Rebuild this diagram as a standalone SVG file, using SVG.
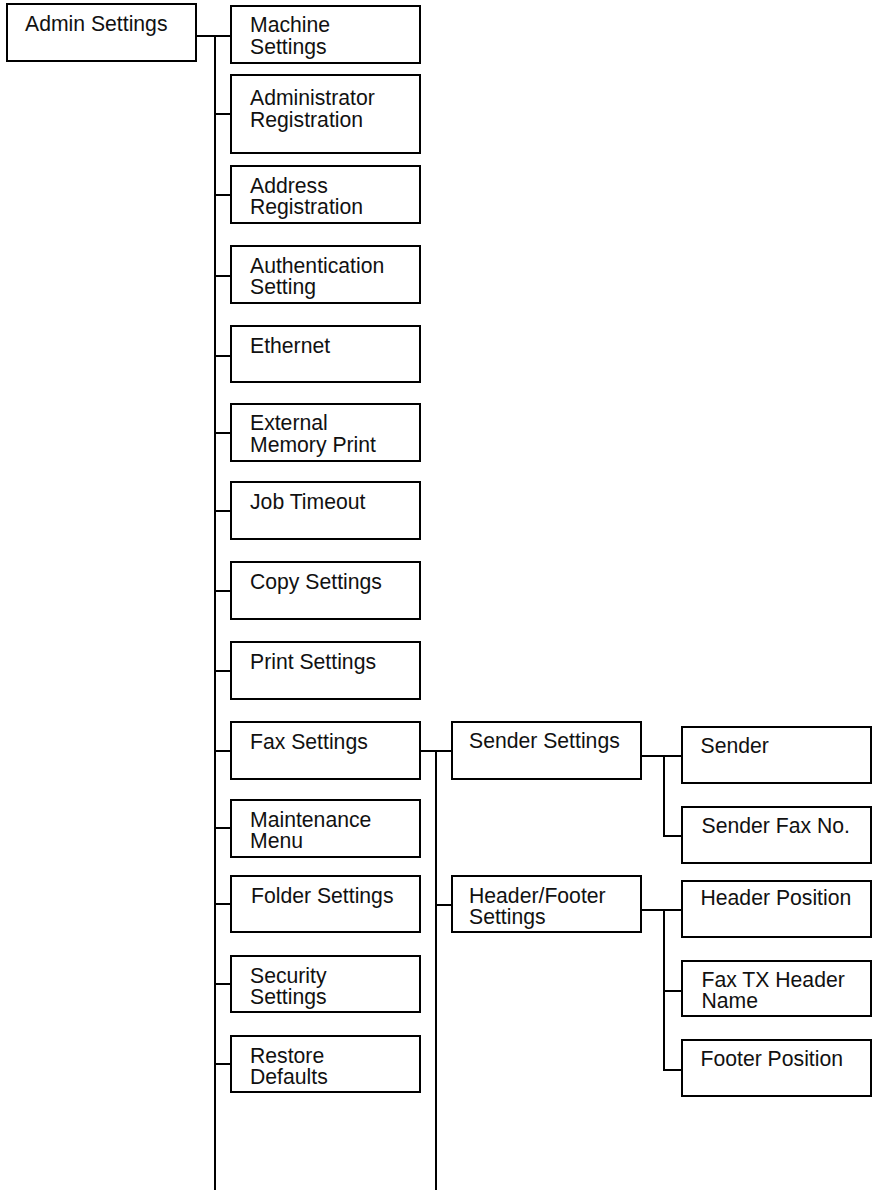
<svg xmlns="http://www.w3.org/2000/svg" width="873" height="1190" viewBox="0 0 873 1190">
<style>
.box{fill:#fff;stroke:#000;stroke-width:2}
.lbl{font-family:"Liberation Sans",Arial,sans-serif;font-size:21.2px;fill:#111}
.ln{stroke:#000;stroke-width:2;fill:none}
</style>
<rect width="873" height="1190" fill="#fff"/>
<g id="connectors">
<path class="ln" d="M196 36H231M215 36V1190"/>
<path class="ln" d="M215 114H231M215 195H231M215 276H231M215 356H231M215 433H231M215 511H231M215 591H231M215 671H231M215 751H231M215 828H231M215 904H231M215 984H231M215 1064H231"/>
<path class="ln" d="M420 751H452M436 751V1190M436 905H452"/>
<path class="ln" d="M641 756H682M664 756V836H682"/>
<path class="ln" d="M641 910H682M664 910V1070H682M664 991H682"/>
</g>
<g id="admin-settings"><rect class="box" x="7" y="4" width="189" height="57"/><text class="lbl" x="25" y="31">Admin Settings</text></g>
<g id="machine-settings"><rect class="box" x="231" y="6" width="189" height="57"/><text class="lbl" x="250" y="32">Machine<tspan x="250" dy="21.6">Settings</tspan></text></g>
<g id="administrator-registration"><rect class="box" x="231" y="75" width="189" height="78"/><text class="lbl" x="250" y="105">Administrator<tspan x="250" dy="21.6">Registration</tspan></text></g>
<g id="address-registration"><rect class="box" x="231" y="166" width="189" height="57"/><text class="lbl" x="250" y="192.7">Address<tspan x="250" dy="21.6">Registration</tspan></text></g>
<g id="authentication-setting"><rect class="box" x="231" y="246" width="189" height="57"/><text class="lbl" x="250" y="272.7">Authentication<tspan x="250" dy="21.6">Setting</tspan></text></g>
<g id="ethernet"><rect class="box" x="231" y="326" width="189" height="56"/><text class="lbl" x="250" y="353">Ethernet</text></g>
<g id="external-memory-print"><rect class="box" x="231" y="404" width="189" height="57"/><text class="lbl" x="250" y="430">External<tspan x="250" dy="21.6">Memory Print</tspan></text></g>
<g id="job-timeout"><rect class="box" x="231" y="482" width="189" height="57"/><text class="lbl" x="250" y="508.5">Job Timeout</text></g>
<g id="copy-settings"><rect class="box" x="231" y="562" width="189" height="57"/><text class="lbl" x="250" y="588.5">Copy Settings</text></g>
<g id="print-settings"><rect class="box" x="231" y="642" width="189" height="57"/><text class="lbl" x="250" y="668.5">Print Settings</text></g>
<g id="fax-settings"><rect class="box" x="231" y="722" width="189" height="57"/><text class="lbl" x="250" y="749">Fax Settings</text></g>
<g id="maintenance-menu"><rect class="box" x="231" y="800" width="189" height="57"/><text class="lbl" x="250" y="826.7">Maintenance<tspan x="250" dy="21.6">Menu</tspan></text></g>
<g id="folder-settings"><rect class="box" x="231" y="876" width="189" height="56"/><text class="lbl" x="251" y="902.7">Folder Settings</text></g>
<g id="security-settings"><rect class="box" x="231" y="956" width="189" height="56"/><text class="lbl" x="250" y="982.7">Security<tspan x="250" dy="21.6">Settings</tspan></text></g>
<g id="restore-defaults"><rect class="box" x="231" y="1036" width="189" height="56"/><text class="lbl" x="250" y="1062.7">Restore<tspan x="250" dy="21.6">Defaults</tspan></text></g>
<g id="sender-settings"><rect class="box" x="452" y="722" width="189" height="57"/><text class="lbl" x="469" y="748">Sender Settings</text></g>
<g id="header-footer-settings"><rect class="box" x="452" y="876" width="189" height="56"/><text class="lbl" x="469" y="902.7">Header/Footer<tspan x="469" dy="21.6">Settings</tspan></text></g>
<g id="sender"><rect class="box" x="682" y="727" width="189" height="56"/><text class="lbl" x="700.5" y="753">Sender</text></g>
<g id="sender-fax-no"><rect class="box" x="682" y="807" width="189" height="56"/><text class="lbl" x="701.5" y="832.7">Sender Fax No.</text></g>
<g id="header-position"><rect class="box" x="682" y="881" width="189" height="56"/><text class="lbl" x="700.5" y="905">Header Position</text></g>
<g id="fax-tx-header-name"><rect class="box" x="682" y="961" width="189" height="55"/><text class="lbl" x="701.5" y="986.7">Fax TX Header<tspan x="701.5" dy="21.6">Name</tspan></text></g>
<g id="footer-position"><rect class="box" x="682" y="1040" width="189" height="56"/><text class="lbl" x="700.5" y="1066">Footer Position</text></g>
</svg>
